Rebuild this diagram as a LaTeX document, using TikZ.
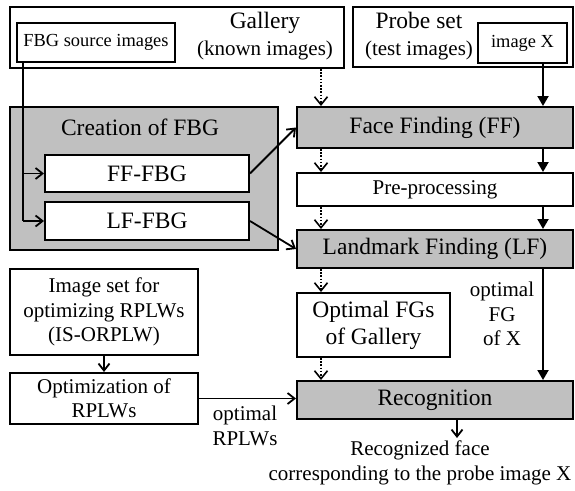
\documentclass[tikz,border=0pt]{standalone}
\usepackage{fontspec}
\setmainfont{Liberation Serif}
\usetikzlibrary{arrows.meta}
\definecolor{FRGray}{HTML}{C0C0C0}
\newcommand\FRbig{\fontsize{23.5}{27}\selectfont}
\newcommand\FRmid{\fontsize{21}{24.5}\selectfont}
\newcommand\FRsmall{\fontsize{18.4}{22}\selectfont}

\begin{document}
\begin{tikzpicture}[x=1pt,y=-1pt,
  box/.style={draw,line width=2pt,inner sep=0pt,align=center},
  gbox/.style={box,fill=FRGray},
  lbl/.style={inner sep=0pt,align=center,font=\FRmid},
  solid/.style={line width=2pt,-{Triangle[length=10pt,width=11pt]}},
  plain/.style={line width=1.8pt,-{Straight Barb[length=7pt,width=11pt]}},
  dots/.style={line width=1.6pt,dash pattern=on 1.6pt off 1.6pt,-{Straight Barb[length=8pt,width=13pt]}}]
\path[use as bounding box] (0,0) rectangle (575,490);
\fill[white] (0,0) rectangle (575,490);
% columns of the vertical connectors
\coordinate (colS) at (23,0);
\coordinate (colL) at (321,0);
\coordinate (colR) at (543,0);
% top row
\node[box,minimum width=334pt,minimum height=61pt] (gallery) at (177,37.5) {};
\node[lbl,font=\FRbig] (gallerytxt) at (265,36) {Gallery\\\FRmid(known images)};
\node[box,minimum width=158pt,minimum height=39pt,font=\FRsmall] (fbgsrc) at (96,42.5) {FBG source images};
\node[box,minimum width=220pt,minimum height=60pt] (probe) at (463,37) {};
\node[lbl,font=\FRbig] (probetxt) at (419,36) {Probe set\\\FRmid(test images)};
\node[box,minimum width=89pt,minimum height=40pt,font=\FRsmall] (imgx) at (522.5,43) {image X};
% creation of FBG
\node[gbox,minimum width=268pt,minimum height=143pt] (creation) at (144,178.5) {};
\node[lbl,font=\FRbig] (creationtxt) at (140,127) {Creation of FBG};
\node[box,fill=white,minimum width=204pt,minimum height=37pt,font=\FRbig] (fffbg) at (147,173.5) {FF-FBG};
\node[box,fill=white,minimum width=204pt,minimum height=38pt,font=\FRbig] (lffbg) at (147,221) {LF-FBG};
% main chain
\node[gbox,minimum width=276pt,minimum height=41pt,font=\FRbig] (ff) at (435,127.5) {Face Finding (FF)};
\node[box,minimum width=276pt,minimum height=33pt,font=\FRmid] (pre) at (435,189.5) {Pre-processing};
\node[gbox,minimum width=276pt,minimum height=38pt,font=\FRbig] (lf) at (435,249) {Landmark Finding (LF)};
\node[box,minimum width=153pt,minimum height=64pt,font=\FRbig] (optfg) at (373.5,325) {Optimal FGs\\of Gallery};
\node[gbox,minimum width=276pt,minimum height=38pt,font=\FRbig] (recog) at (435,400) {Recognition};
% RPLW branch
\node[box,minimum width=188pt,minimum height=86pt,font=\FRmid] (imgset) at (104,312) {Image set for\\optimizing RPLWs\\(IS-ORPLW)};
\node[box,minimum width=188pt,minimum height=51pt,font=\FRmid] (optim) at (104,398.5) {Optimization of\\RPLWs};
% labels
\node[lbl] (fgxlbl) at (502,314) {optimal\\FG\\of X};
\node[lbl] (rplwlbl) at (245,426) {optimal\\RPLWs};
\coordinate (result) at (457,438);
\node[lbl,anchor=north] (resulttxt) at (420,441) {Recognized face\\corresponding to the probe image X};
% gallery side, dotted
\draw[dots] (gallery.south -| colL) -- (ff.north -| colL);
\draw[dots] (ff.south -| colL) -- (pre.north -| colL);
\draw[dots] (pre.south -| colL) -- (lf.north -| colL);
\draw[dots] (lf.south -| colL) -- (optfg.north -| colL);
\draw[dots] (optfg.south -| colL) -- (recog.north -| colL);
% probe side, solid
\draw[solid] (imgx.south -| colR) -- (ff.north -| colR);
\draw[solid] (ff.south -| colR) -- (pre.north -| colR);
\draw[solid] (pre.south -| colR) -- (lf.north -| colR);
\draw[solid] (lf.south -| colR) -- (recog.north -| colR);
% FBG creation
\draw[line width=1.8pt] (fbgsrc.south -| colS) -- (lffbg.west -| colS);
\draw[plain] (lffbg.west -| colS) -- (lffbg.west);
\draw[plain] (fffbg.west -| colS) -- (fffbg.west);
\draw[plain] (fffbg.east) -- (ff.west);
\draw[plain] (lffbg.east) -- (lf.west);
% RPLWs
\draw[plain] (imgset.south) -- (optim.north);
\draw[plain] (optim.east) -- (optim.east -| recog.west);
\draw[plain] (recog.south -| result) -- (result);
\end{tikzpicture}
\end{document}
